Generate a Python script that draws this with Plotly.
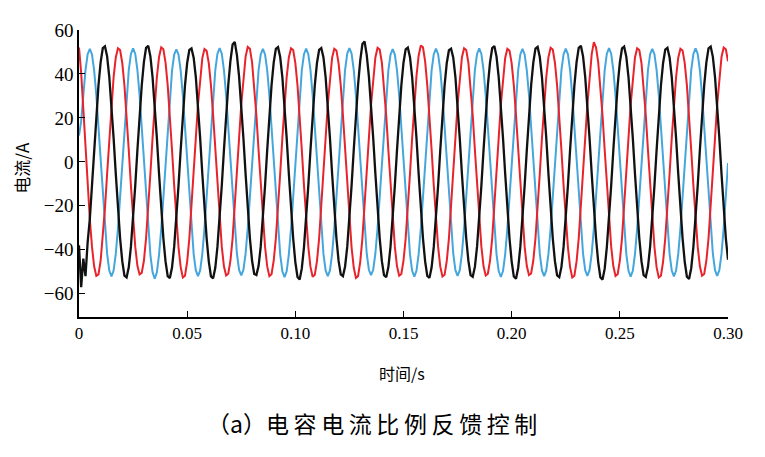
import plotly.graph_objects as go

# time grid: 1 ms samples from 0 to 0.30 s
t = [k * 0.001 for k in range(301)]

# phase currents (A), one line per 20 ms cycle
red_current = [
    52.0, 40.5, 24.0, 6.5, -10.8, -26.0, -38.6, -47.5, -51.9, -51.2, -45.0, -34.8, -21.2, -5.4, 10.8, 26.0, 38.6, 47.5, 51.7, 50.9,
    45.0, 34.8, 21.2, 5.4, -10.8, -26.0, -38.6, -47.3, -51.2, -50.5, -45.0, -34.8, -21.2, -5.4, 10.8, 26.0, 38.6, 47.7, 52.1, 51.2,
    45.2, 34.8, 21.2, 5.4, -10.8, -26.0, -38.8, -47.9, -52.6, -51.8, -45.4, -34.8, -21.2, -5.4, 10.8, 26.0, 38.4, 47.2, 51.3, 50.5,
    44.8, 34.8, 21.2, 5.4, -10.8, -26.0, -38.6, -47.5, -51.7, -50.9, -45.0, -34.8, -21.2, -5.4, 10.8, 26.0, 38.8, 47.8, 52.3, 51.5,
    45.3, 34.8, 21.2, 5.4, -10.8, -26.0, -38.6, -47.6, -52.0, -51.1, -45.0, -34.8, -21.2, -5.4, 10.8, 26.0, 38.6, 47.5, 51.7, 50.9,
    45.0, 34.8, 21.2, 5.4, -10.8, -26.0, -38.7, -47.8, -52.3, -51.4, -45.2, -34.8, -21.2, -5.4, 10.8, 26.0, 38.6, 47.4, 51.5, 50.7,
    44.8, 34.8, 21.2, 5.4, -10.8, -26.0, -38.9, -48.1, -52.8, -52.0, -45.5, -34.8, -21.2, -5.4, 10.8, 26.0, 38.6, 47.5, 51.9, 51.1,
    45.1, 34.8, 21.2, 5.4, -10.8, -26.0, -38.6, -47.5, -51.8, -51.0, -45.0, -34.8, -21.2, -5.4, 10.8, 26.0, 39.0, 48.3, 53.0, 52.1,
    45.7, 34.8, 21.2, 5.4, -10.8, -26.0, -38.7, -47.7, -52.2, -51.4, -45.1, -34.8, -21.2, -5.4, 10.8, 26.0, 38.6, 47.5, 51.7, 50.9,
    45.0, 34.8, 21.2, 5.4, -10.8, -26.0, -38.6, -47.5, -51.7, -50.9, -45.0, -34.8, -21.2, -5.4, 10.8, 26.0, 38.5, 47.3, 51.4, 50.6,
    44.8, 34.8, 21.2, 5.4, -10.8, -26.0, -38.6, -47.4, -51.5, -50.8, -44.9, -34.8, -21.2, -5.4, 10.8, 26.0, 38.6, 47.6, 51.9, 51.1,
    45.1, 34.8, 21.2, 5.4, -10.8, -26.0, -38.8, -47.9, -52.6, -51.8, -45.3, -34.8, -21.2, -5.4, 10.8, 26.0, 39.2, 49.0, 54.5, 52.0,
    45.4, 34.8, 21.2, 5.4, -10.8, -26.0, -38.6, -47.5, -51.9, -51.1, -45.0, -34.8, -21.2, -5.4, 10.8, 26.0, 38.6, 47.5, 51.7, 50.9,
    45.0, 34.8, 21.2, 5.4, -10.8, -26.0, -38.8, -48.0, -52.6, -51.8, -45.4, -34.8, -21.2, -5.4, 10.8, 26.0, 38.6, 47.4, 51.5, 50.7,
    44.9, 34.8, 21.2, 5.4, -10.8, -26.0, -38.6, -47.5, -51.8, -51.0, -45.0, -34.8, -21.2, -5.4, 10.8, 26.0, 38.7, 47.7, 52.0, 51.2,
    45.8,
]

blue_current = [
    12.0, 18.5, 30.3, 41.7, 49.0, 51.4, 48.9, 41.6, 30.3, 15.9, 0.2, -15.9, -30.4, -41.9, -49.5, -52.1, -49.5, -41.9, -30.4, -15.9,
    0.1, 15.9, 30.3, 41.7, 49.1, 51.6, 49.1, 41.7, 30.3, 15.9, -0.1, -16.0, -30.6, -42.3, -50.2, -53.2, -50.3, -42.3, -30.6, -16.0,
    0.0, 15.9, 30.2, 41.5, 48.8, 51.2, 48.8, 41.5, 30.2, 15.8, 0.0, -15.9, -30.4, -41.9, -49.4, -52.0, -49.4, -41.9, -30.4, -15.9,
    0.2, 15.9, 30.3, 41.8, 49.2, 51.7, 49.2, 41.8, 30.3, 15.9, 0.0, -15.9, -30.3, -41.8, -49.2, -51.7, -49.2, -41.8, -30.3, -15.9,
    0.0, 15.9, 30.3, 41.6, 48.9, 51.4, 48.9, 41.6, 30.3, 15.9, 0.1, -16.0, -30.5, -42.1, -49.8, -52.5, -49.8, -42.1, -30.5, -16.0,
    -0.1, 15.9, 30.3, 41.7, 49.0, 51.5, 49.0, 41.7, 30.3, 15.9, 0.0, -15.9, -30.4, -41.9, -49.4, -52.0, -49.4, -41.9, -30.4, -15.9,
    0.0, 15.9, 30.4, 41.9, 49.3, 51.8, 49.3, 41.9, 30.4, 15.9, 0.0, -15.9, -30.3, -41.7, -49.1, -51.6, -49.1, -41.7, -30.3, -15.9,
    0.1, 15.9, 30.2, 41.6, 48.8, 51.3, 48.8, 41.6, 30.2, 15.9, 0.0, -15.9, -30.5, -42.0, -49.6, -52.2, -49.6, -42.0, -30.5, -15.9,
    0.0, 15.9, 30.3, 41.7, 49.0, 51.5, 49.0, 41.7, 30.3, 15.9, -0.1, -15.9, -30.3, -41.8, -49.3, -51.9, -49.3, -41.8, -30.3, -15.9,
    0.0, 15.9, 30.3, 41.8, 49.1, 51.6, 49.1, 41.8, 30.3, 15.9, 0.0, -16.0, -30.5, -42.1, -49.7, -52.4, -49.7, -42.1, -30.5, -16.0,
    0.0, 15.9, 30.3, 41.6, 48.9, 51.4, 48.9, 41.6, 30.3, 15.9, 0.0, -15.9, -30.4, -41.9, -49.4, -52.0, -49.4, -41.9, -30.4, -15.9,
    0.1, 15.9, 30.3, 41.7, 49.0, 51.5, 49.0, 41.7, 30.3, 15.9, 0.0, -15.9, -30.3, -41.8, -49.3, -51.9, -49.3, -41.8, -30.3, -15.9,
    0.0, 15.9, 30.4, 41.8, 49.2, 51.7, 49.2, 41.8, 30.4, 15.9, 0.0, -16.0, -30.5, -42.0, -49.6, -52.2, -49.6, -42.0, -30.5, -16.0,
    0.0, 15.9, 30.3, 41.7, 49.0, 51.4, 49.0, 41.7, 30.3, 15.9, 0.1, -15.9, -30.4, -41.9, -49.5, -52.1, -49.5, -41.9, -30.4, -15.9,
    0.0, 15.9, 30.3, 41.7, 49.1, 51.6, 49.1, 41.7, 30.3, 15.9, 0.0, -15.9, -30.3, -41.8, -49.3, -51.9, -49.3, -41.8, -30.3, -15.9,
    -0.5,
]

black_current = [
    -38.0, -57.0, -44.0, -52.0, -36.5, -26.0, -10.8, 5.4, 21.2, 34.8, 45.3, 51.8, 52.6, 48.0, 38.6, 26.0, 10.8, -5.4, -21.2, -34.8,
    -45.2, -51.8, -52.6, -48.0, -38.6, -26.0, -10.8, 5.4, 21.2, 34.8, 45.4, 51.9, 52.8, 48.0, 38.6, 26.0, 10.8, -5.4, -21.2, -34.8,
    -45.3, -52.0, -52.9, -48.1, -38.6, -26.0, -10.8, 5.4, 21.2, 34.8, 45.0, 50.9, 51.6, 47.4, 38.6, 26.0, 10.8, -5.4, -21.2, -34.8,
    -45.4, -52.1, -53.0, -48.2, -38.6, -26.0, -10.8, 5.4, 21.2, 35.0, 46.0, 53.4, 54.6, 48.6, 38.8, 26.0, 10.8, -5.4, -21.2, -34.8,
    -45.0, -51.0, -51.5, -47.4, -38.6, -26.0, -10.8, 5.4, 21.2, 34.8, 45.2, 51.4, 52.2, 47.7, 38.6, 26.0, 10.8, -5.4, -21.2, -34.8,
    -45.6, -52.4, -53.5, -48.5, -38.8, -26.0, -10.8, 5.4, 21.2, 34.8, 45.0, 51.0, 51.8, 47.5, 38.6, 26.0, 10.8, -5.4, -21.2, -34.8,
    -45.1, -51.2, -52.0, -47.6, -38.6, -26.0, -10.8, 5.4, 21.2, 35.1, 46.1, 53.6, 54.8, 48.7, 38.9, 26.0, 10.8, -5.4, -21.2, -34.8,
    -45.2, -51.6, -52.5, -47.9, -38.6, -26.0, -10.8, 5.4, 21.2, 34.8, 45.1, 51.2, 52.0, 47.6, 38.6, 26.0, 10.8, -5.4, -21.2, -34.8,
    -45.3, -51.9, -52.8, -48.0, -38.6, -26.0, -10.8, 5.4, 21.2, 34.8, 45.0, 50.8, 51.5, 47.4, 38.6, 26.0, 10.8, -5.4, -21.2, -34.8,
    -45.1, -51.5, -52.3, -47.8, -38.6, -26.0, -10.8, 5.4, 21.2, 34.8, 45.3, 51.8, 52.7, 47.9, 38.6, 26.0, 10.8, -5.4, -21.2, -34.8,
    -45.4, -52.2, -53.2, -48.3, -38.7, -26.0, -10.8, 5.4, 21.2, 34.8, 45.2, 51.5, 52.3, 47.7, 38.6, 26.0, 10.8, -5.4, -21.2, -34.8,
    -45.2, -51.7, -52.5, -47.9, -38.6, -26.0, -10.8, 5.4, 21.2, 34.8, 45.4, 51.9, 52.8, 48.0, 38.6, 26.0, 10.8, -5.4, -21.2, -34.8,
    -45.6, -52.5, -53.6, -48.6, -38.8, -26.0, -10.8, 5.4, 21.2, 34.8, 45.2, 51.6, 52.4, 47.8, 38.6, 26.0, 10.8, -5.4, -21.2, -34.8,
    -45.2, -51.6, -52.4, -47.9, -38.6, -26.0, -10.8, 5.4, 21.2, 34.8, 45.0, 51.1, 51.9, 47.5, 38.6, 26.0, 10.8, -5.4, -21.2, -34.8,
    -45.5, -52.3, -53.3, -48.4, -38.7, -26.0, -10.8, 5.4, 21.2, 34.8, 45.3, 51.7, 52.5, 47.8, 38.6, 26.0, 10.8, -5.4, -21.2, -34.8,
    -44.5,
]

x_tick_vals = [0, 0.05, 0.10, 0.15, 0.20, 0.25, 0.30]
x_tick_text = ["0", "0.05", "0.10", "0.15", "0.20", "0.25", "0.30"]
y_tick_vals = [-60, -40, -20, 0, 20, 40, 60]

x_title = "时间/s"
y_title = "电流/A"
caption = "（a）电\u2009容\u2009电\u2009流\u2009比\u2009例\u2009反\u2009馈\u2009控\u2009制"

fig = go.Figure()
fig.add_trace(go.Scatter(x=t, y=blue_current, mode="lines",
                         line=dict(color="#45a6dd", width=2.0), showlegend=False))
fig.add_trace(go.Scatter(x=t, y=red_current, mode="lines",
                         line=dict(color="#e8232b", width=2.0), showlegend=False))
fig.add_trace(go.Scatter(x=t, y=black_current, mode="lines",
                         line=dict(color="#111111", width=2.3), showlegend=False))

serif = "Liberation Serif"
cjk = "Noto Sans CJK SC"

fig.update_layout(
    width=765, height=457,
    margin=dict(l=71, r=45, t=13, b=148),
    paper_bgcolor="white", plot_bgcolor="white",
    xaxis=dict(range=[0, 0.30], tickvals=x_tick_vals, ticktext=x_tick_text,
               ticks="inside", ticklen=6, tickwidth=1.3, tickcolor="black",
               showline=True, linecolor="black", linewidth=1.5,
               showgrid=False, zeroline=False,
               tickfont=dict(family=serif, size=17, color="black")),
    yaxis=dict(range=[-70.6, 60], tickvals=y_tick_vals,
               ticks="inside", ticklen=6, tickwidth=1.3, tickcolor="black",
               showline=True, linecolor="black", linewidth=1.5,
               showgrid=False, zeroline=False,
               tickfont=dict(family=serif, size=19, color="black")),
    annotations=[
        dict(text=y_title, xref="paper", yref="paper", x=-0.088, y=0.52,
             xanchor="center", yanchor="middle", textangle=-90, showarrow=False,
             font=dict(family=cjk, size=17, color="black")),
        dict(text=x_title, xref="paper", yref="paper", x=0.498, y=-0.194,
             xanchor="center", yanchor="middle", showarrow=False,
             font=dict(family=cjk, size=16, color="black")),
        dict(text=caption, xref="paper", yref="paper", x=0.452, y=-0.37,
             xanchor="center", yanchor="middle", showarrow=False,
             font=dict(family=cjk, size=23, color="black")),
    ],
)

fig.write_html("out.html")
